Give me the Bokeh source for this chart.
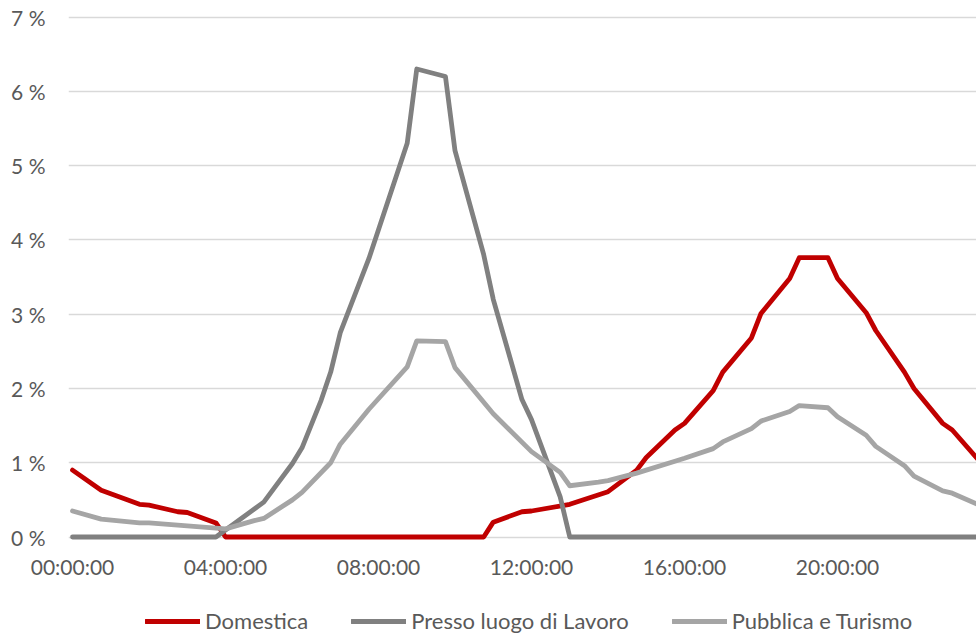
from bokeh.plotting import figure
from bokeh.layouts import column
from bokeh.models import FixedTicker, Legend, LegendItem, Range1d
from bokeh.embed import file_html
from bokeh.resources import INLINE

# ---- data (hours of day, percent) ----
x_tick_values = [0, 4, 8, 12, 16, 20]
x_tick_labels = ["00:00:00", "04:00:00", "08:00:00", "12:00:00", "16:00:00", "20:00:00"]
y_tick_values = [0, 1, 2, 3, 4, 5, 6, 7]
y_tick_labels = ["0 %", "1 %", "2 %", "3 %", "4 %", "5 %", "6 %", "7 %"]

series_names = ["Domestica", "Presso luogo di Lavoro", "Pubblica e Turismo"]
series_colors = ["#C00000", "#808080", "#A5A5A5"]

t_dom = [0, 0.75, 1.75, 2.0, 2.75, 3.0, 3.75, 4.0, 10.75, 11.0, 11.75, 12.0, 13.0,
         14.0, 14.75, 15.0, 15.75, 16.0, 16.75, 17.0, 17.75, 18.0, 18.75, 19.0,
         19.75, 20.0, 20.75, 21.0, 21.75, 22.0, 22.75, 23.0, 23.75]
v_dom = [0.90, 0.63, 0.44, 0.43, 0.34, 0.33, 0.19, 0.0, 0.0, 0.20, 0.34, 0.35, 0.44,
         0.61, 0.90, 1.07, 1.44, 1.53, 1.97, 2.22, 2.68, 3.01, 3.48, 3.76,
         3.76, 3.48, 3.02, 2.78, 2.22, 2.00, 1.53, 1.44, 1.00]

t_lav = [0, 3.75, 5.0, 5.75, 6.0, 6.5, 6.75, 7.0, 7.75, 8.75, 9.0, 9.75, 10.0,
         10.75, 11.0, 11.75, 12.0, 12.75, 13.0, 23.75]
v_lav = [0, 0, 0.47, 0.99, 1.20, 1.84, 2.22, 2.75, 3.75, 5.30, 6.30, 6.20, 5.20,
         3.80, 3.20, 1.85, 1.58, 0.54, 0, 0]

t_pub = [0, 0.75, 1.75, 2.0, 2.75, 3.0, 3.75, 4.0, 4.75, 5.0, 5.75, 6.0, 6.75, 7.0,
         7.75, 8.75, 9.0, 9.75, 10.0, 11.0, 12.0, 12.75, 13.0, 13.75, 14.0, 14.75,
         15.0, 15.75, 16.0, 16.75, 17.0, 17.75, 18.0, 18.75, 19.0, 19.75, 20.0,
         20.75, 21.0, 21.75, 22.0, 22.75, 23.0, 23.75]
v_pub = [0.35, 0.24, 0.19, 0.19, 0.16, 0.15, 0.12, 0.11, 0.22, 0.25, 0.50, 0.60, 1.00, 1.25,
         1.72, 2.29, 2.64, 2.63, 2.28, 1.66, 1.15, 0.87, 0.69, 0.74, 0.76, 0.86,
         0.90, 1.02, 1.06, 1.19, 1.28, 1.46, 1.56, 1.69, 1.77, 1.74, 1.62,
         1.37, 1.22, 0.96, 0.82, 0.62, 0.59, 0.42]

FONT = "Lato"
TXT = "#595959"
LW = 4.8
series = [(t_dom, v_dom, series_colors[0]),
          (t_lav, v_lav, series_colors[1]),
          (t_pub, v_pub, series_colors[2])]

p = figure(width=976, height=585, output_backend="svg", toolbar_location=None,
           x_range=Range1d(-0.105, 23.634), y_range=Range1d(-0.047, 7.034),
           min_border_left=68, min_border_right=0, min_border_top=14, min_border_bottom=45,
           background_fill_color="white", border_fill_color="white")
p.outline_line_color = None

p.xgrid.grid_line_color = None
p.ygrid.grid_line_color = "#D9D9D9"
p.ygrid.grid_line_width = 1.4

p.yaxis.ticker = FixedTicker(ticks=y_tick_values)
p.yaxis.major_label_overrides = {v: l for v, l in zip(y_tick_values, y_tick_labels)}
p.xaxis.ticker = FixedTicker(ticks=x_tick_values)
p.xaxis.major_label_overrides = {v: l for v, l in zip(x_tick_values, x_tick_labels)}

for ax in (p.xaxis[0], p.yaxis[0]):
    ax.axis_line_color = None
    ax.major_tick_line_color = None
    ax.minor_tick_line_color = None
    ax.major_tick_out = 0
    ax.major_tick_in = 0
    ax.major_label_text_font = FONT
    ax.major_label_text_font_size = "21px"
    ax.major_label_text_color = TXT
p.yaxis.major_label_standoff = 23
p.xaxis.major_label_standoff = 13

for ts, vs, col in series:
    p.line(ts, vs, line_color=col, line_width=LW, line_join="round", line_cap="round")

# ---- legend strip below the chart (same series, kept outside its visible range) ----
lg = figure(width=976, height=49, output_backend="svg", toolbar_location=None,
            x_range=Range1d(0, 1), y_range=Range1d(100, 101),
            min_border_left=0, min_border_right=0, min_border_top=0, min_border_bottom=0,
            background_fill_color="white", border_fill_color="white")
lg.outline_line_color = None
lg.axis.visible = False
lg.grid.visible = False

key_renderers = [lg.line(ts, vs, line_color=col, line_width=LW, line_cap="round")
                 for ts, vs, col in series]
legend = Legend(items=[LegendItem(label=n, renderers=[r]) for n, r in zip(series_names, key_renderers)],
                orientation="horizontal", location=(77, 0),
                label_text_font=FONT, label_text_font_size="22px", label_text_color=TXT,
                glyph_width=55, glyph_height=20, label_height=20, label_standoff=5, spacing=43,
                padding=0, margin=0, border_line_color=None, background_fill_alpha=0)
lg.add_layout(legend, "center")

layout = column(p, lg, spacing=0)
open("out.html", "w").write(file_html(layout, INLINE))
